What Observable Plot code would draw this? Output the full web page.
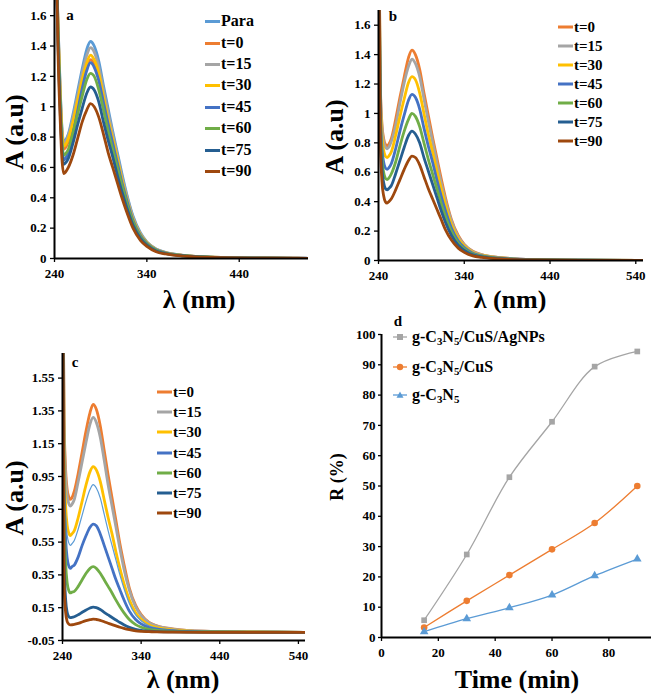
<!DOCTYPE html>
<html><head><meta charset="utf-8">
<script src="https://cdn.jsdelivr.net/npm/d3@7"></script>
<script src="https://cdn.jsdelivr.net/npm/@observablehq/plot@0.6"></script>
<style>
body{margin:0;background:#fff;}
#root{position:relative;width:651px;height:695px;overflow:hidden;font-family:"Liberation Serif","Tinos","Times New Roman","Times","Nimbus Roman","FreeSerif","DejaVu Serif","Noto Serif",serif;font-weight:bold;color:#000;background:#fff;}
.panel{position:absolute;}
.t{position:absolute;white-space:nowrap;line-height:1;transform:translate(-50%,-50%);}
.rot{transform:translate(-50%,-50%) rotate(-90deg);}
.leg{position:absolute;display:flex;align-items:center;transform:translateY(-50%);line-height:1;white-space:nowrap;}
sub{font-size:0.68em;vertical-align:-0.28em;line-height:0;}
</style>
</head><body><div id="root"></div>
<script>
// ---- Wavelength grid (nm) shared by the spectra ----
const W = [240, 242, 244, 246, 248, 250, 252, 255, 260, 265, 270, 275, 279, 283, 288, 293, 298, 303, 308, 313, 318, 325, 333, 340, 350, 360, 380, 420, 480, 550];

// ---- Panel a ----
const namesA = ["Para", "t=0", "t=15", "t=30", "t=45", "t=60", "t=75", "t=90"];
const a_para = [2.6, 1.95, 1.52, 1.15, 0.87, 0.77, 0.78, 0.82, 0.95, 1.10, 1.25, 1.38, 1.43, 1.40, 1.30, 1.14, 0.99, 0.84, 0.70, 0.56, 0.43, 0.28, 0.17, 0.11, 0.063, 0.041, 0.021, 0.007, 0.003, 0];
const a_t0 = [2.6, 1.95, 1.47, 1.10, 0.82, 0.72, 0.73, 0.77, 0.88, 1.02, 1.15, 1.26, 1.31, 1.28, 1.19, 1.05, 0.90, 0.77, 0.64, 0.51, 0.39, 0.26, 0.155, 0.10, 0.058, 0.038, 0.02, 0.007, 0.003, 0];
const a_t15 = [2.6, 1.95, 1.51, 1.14, 0.86, 0.76, 0.77, 0.81, 0.93, 1.07, 1.22, 1.34, 1.39, 1.36, 1.26, 1.11, 0.96, 0.82, 0.68, 0.54, 0.42, 0.27, 0.164, 0.108, 0.061, 0.04, 0.021, 0.007, 0.003, 0];
const a_t30 = [2.6, 1.95, 1.49, 1.12, 0.84, 0.74, 0.75, 0.79, 0.90, 1.04, 1.18, 1.29, 1.34, 1.31, 1.22, 1.07, 0.92, 0.79, 0.66, 0.52, 0.40, 0.26, 0.158, 0.105, 0.059, 0.039, 0.02, 0.007, 0.003, 0];
const a_t45 = [2.6, 1.95, 1.40, 1.03, 0.75, 0.65, 0.66, 0.70, 0.82, 0.97, 1.12, 1.24, 1.29, 1.26, 1.17, 1.03, 0.89, 0.76, 0.63, 0.50, 0.39, 0.25, 0.152, 0.10, 0.057, 0.037, 0.019, 0.006, 0.003, 0];
const a_t60 = [2.6, 1.95, 1.43, 1.06, 0.78, 0.68, 0.69, 0.72, 0.83, 0.95, 1.07, 1.18, 1.22, 1.20, 1.11, 0.98, 0.84, 0.72, 0.60, 0.48, 0.37, 0.24, 0.144, 0.095, 0.054, 0.035, 0.018, 0.006, 0.002, 0];
const a_t75 = [2.6, 1.95, 1.37, 1.00, 0.72, 0.62, 0.63, 0.66, 0.76, 0.88, 0.99, 1.09, 1.13, 1.11, 1.03, 0.90, 0.78, 0.67, 0.55, 0.44, 0.34, 0.22, 0.133, 0.088, 0.05, 0.033, 0.017, 0.006, 0.002, 0];
const a_t90 = [2.6, 1.95, 1.31, 0.94, 0.66, 0.56, 0.57, 0.60, 0.68, 0.79, 0.90, 0.98, 1.02, 1.00, 0.93, 0.82, 0.70, 0.60, 0.50, 0.40, 0.31, 0.20, 0.12, 0.08, 0.045, 0.03, 0.015, 0.005, 0.002, 0];
const xTicksA = [240, 340, 440];
const yTicksA = [0, 0.2, 0.4, 0.6, 0.8, 1, 1.2, 1.4, 1.6];

// ---- Panel b ----
const namesB = ["t=0", "t=15", "t=30", "t=45", "t=60", "t=75", "t=90"];
const b_t0 = [2.6, 1.23, 0.93, 0.83, 0.79, 0.78, 0.79, 0.83, 0.96, 1.11, 1.25, 1.38, 1.43, 1.40, 1.30, 1.14, 0.99, 0.84, 0.70, 0.56, 0.43, 0.28, 0.17, 0.11, 0.063, 0.041, 0.021, 0.007, 0.003, 0];
const b_t15 = [2.6, 1.21, 0.91, 0.81, 0.77, 0.76, 0.77, 0.81, 0.92, 1.07, 1.21, 1.32, 1.37, 1.34, 1.25, 1.10, 0.95, 0.81, 0.67, 0.53, 0.41, 0.27, 0.162, 0.107, 0.06, 0.04, 0.021, 0.007, 0.003, 0];
const b_t30 = [2.6, 1.15, 0.85, 0.75, 0.71, 0.70, 0.71, 0.74, 0.85, 0.98, 1.10, 1.21, 1.25, 1.23, 1.14, 1.00, 0.86, 0.74, 0.61, 0.49, 0.38, 0.245, 0.148, 0.098, 0.055, 0.036, 0.019, 0.006, 0.002, 0];
const b_t45 = [2.6, 1.07, 0.77, 0.67, 0.63, 0.62, 0.63, 0.66, 0.76, 0.88, 0.99, 1.09, 1.13, 1.11, 1.03, 0.90, 0.78, 0.67, 0.55, 0.44, 0.34, 0.22, 0.133, 0.088, 0.05, 0.033, 0.017, 0.006, 0.002, 0];
const b_t60 = [2.6, 1.00, 0.70, 0.60, 0.56, 0.55, 0.56, 0.59, 0.67, 0.78, 0.88, 0.96, 1.00, 0.98, 0.91, 0.80, 0.69, 0.59, 0.49, 0.39, 0.30, 0.196, 0.118, 0.078, 0.044, 0.029, 0.015, 0.005, 0.002, 0];
const b_t75 = [2.6, 0.93, 0.63, 0.53, 0.49, 0.48, 0.49, 0.51, 0.59, 0.68, 0.77, 0.85, 0.88, 0.86, 0.80, 0.70, 0.61, 0.52, 0.43, 0.34, 0.26, 0.172, 0.104, 0.069, 0.039, 0.026, 0.013, 0.004, 0.002, 0];
const b_t90 = [2.6, 0.84, 0.54, 0.44, 0.40, 0.39, 0.40, 0.42, 0.48, 0.55, 0.62, 0.68, 0.71, 0.70, 0.65, 0.57, 0.49, 0.42, 0.35, 0.28, 0.21, 0.139, 0.084, 0.055, 0.031, 0.021, 0.011, 0.004, 0.001, 0];
const xTicksB = [240, 340, 440, 540];
const yTicksB = [0, 0.2, 0.4, 0.6, 0.8, 1, 1.2, 1.4, 1.6];

// ---- Panel c ----
const namesC = ["t=0", "t=15", "t=30", "t=45", "t=60", "t=75", "t=90"];
const c_t0 = [2.6, 1.31, 0.99, 0.87, 0.825, 0.81, 0.82, 0.86, 0.97, 1.10, 1.23, 1.34, 1.39, 1.36, 1.26, 1.11, 0.96, 0.82, 0.68, 0.54, 0.42, 0.27, 0.164, 0.108, 0.061, 0.04, 0.021, 0.007, 0.003, 0];
const c_t15 = [2.6, 1.27, 0.95, 0.83, 0.785, 0.77, 0.78, 0.81, 0.92, 1.04, 1.16, 1.27, 1.31, 1.28, 1.19, 1.05, 0.90, 0.77, 0.64, 0.51, 0.39, 0.257, 0.155, 0.102, 0.058, 0.038, 0.02, 0.007, 0.003, 0];
const c_t30 = [2.6, 1.09, 0.77, 0.65, 0.605, 0.59, 0.60, 0.62, 0.70, 0.80, 0.90, 0.98, 1.01, 0.99, 0.92, 0.81, 0.70, 0.60, 0.49, 0.39, 0.30, 0.198, 0.119, 0.079, 0.044, 0.029, 0.015, 0.005, 0.002, 0];
const c_extra = [2.6, 1.03, 0.71, 0.59, 0.545, 0.53, 0.54, 0.56, 0.63, 0.715, 0.80, 0.87, 0.90, 0.88, 0.82, 0.72, 0.62, 0.53, 0.44, 0.35, 0.27, 0.176, 0.106, 0.07, 0.04, 0.026, 0.014, 0.005, 0.002, 0];
const c_t45 = [2.6, 0.89, 0.57, 0.45, 0.405, 0.39, 0.40, 0.41, 0.46, 0.53, 0.59, 0.64, 0.66, 0.65, 0.60, 0.53, 0.46, 0.39, 0.32, 0.26, 0.20, 0.129, 0.078, 0.051, 0.029, 0.019, 0.01, 0.003, 0.001, 0];
const c_t60 = [2.6, 0.74, 0.42, 0.30, 0.255, 0.24, 0.245, 0.25, 0.28, 0.32, 0.36, 0.39, 0.40, 0.39, 0.36, 0.32, 0.28, 0.24, 0.196, 0.156, 0.12, 0.078, 0.047, 0.031, 0.018, 0.012, 0.006, 0.002, 0.001, 0];
const c_t75 = [2.6, 0.45, 0.20, 0.12, 0.095, 0.09, 0.091, 0.095, 0.107, 0.122, 0.136, 0.148, 0.153, 0.15, 0.139, 0.122, 0.106, 0.09, 0.075, 0.06, 0.046, 0.03, 0.018, 0.012, 0.007, 0.004, 0.002, 0.001, 0, 0];
const c_t90 = [2.6, 0.30, 0.12, 0.065, 0.05, 0.045, 0.046, 0.048, 0.054, 0.063, 0.071, 0.077, 0.08, 0.078, 0.073, 0.064, 0.055, 0.047, 0.039, 0.031, 0.024, 0.016, 0.009, 0.006, 0.004, 0.002, 0.001, 0, 0, 0];
const xTicksC = [240, 340, 440, 540];
const yTicksC = [-0.05, 0.15, 0.35, 0.55, 0.75, 0.95, 1.15, 1.35, 1.55];

// ---- Panel d ----
const time = [15, 30, 45, 60, 75, 90];
const rAgNPs = [5.7, 27.4, 52.9, 71.2, 89.4, 94.4];
const rCuS = [3.3, 12.1, 20.6, 29.1, 37.8, 50.0];
const rC3N5 = [1.9, 6.2, 9.8, 14.0, 20.4, 25.9];
const xTicksD = [0, 20, 40, 60, 80];
const yTicksD = [0, 10, 20, 30, 40, 50, 60, 70, 80, 90, 100];

// ---- Styles ----
const C = {para:"#5B9BD5", t0:"#ED7D31", t15:"#A5A5A5", t30:"#FFC000", t45:"#4472C4", t60:"#70AD47", t75:"#255E91", t90:"#9E480E"};
const SERIF = "'Liberation Serif','Tinos','Times New Roman','Times','Nimbus Roman','FreeSerif','DejaVu Serif','Noto Serif',serif";
const root = document.getElementById("root");

function place(node, left, top, width) {
  const d = document.createElement("div");
  d.className = "panel";
  d.style.left = left + "px"; d.style.top = top + "px"; d.style.width = width + "px";
  d.appendChild(node);
  root.appendChild(d);
}
function text(html, x, y, size, rot) {
  const d = document.createElement("div");
  d.className = "t" + (rot ? " rot" : "");
  d.style.left = x + "px"; d.style.top = y + "px"; d.style.fontSize = size + "px";
  d.innerHTML = html;
  root.appendChild(d);
}
function legend(x, ys, names, colors, fs) {
  names.forEach((n, i) => {
    const d = document.createElement("div");
    d.className = "leg";
    d.style.left = x + "px"; d.style.top = ys[i] + "px"; d.style.fontSize = fs + "px";
    d.innerHTML = `<span style="display:inline-block;width:15px;height:3px;background:${colors[i]};margin-right:1px"></span><span>${n}</span>`;
    root.appendChild(d);
  });
}
const axisStyle = {fontFamily: SERIF, fontSize: "13px", fontWeight: "bold", color: "#000", background: "transparent", overflow: "visible"};

function spectrum(cfg) {
  const marks = [
    Plot.axisX({ticks: cfg.xTicks, tickSize: 4, tickPadding: 6, tickFormat: d => String(d), label: null, stroke: "#000", strokeWidth: 1.3}),
    Plot.axisY({ticks: cfg.yTicks, tickSize: 4, tickPadding: 4, tickFormat: d => String(d), label: null, stroke: "#000", strokeWidth: 1.3}),
  ];
  cfg.series.forEach(s => {
    marks.push(Plot.line(W.map((w, i) => ({w, A: s.v[i]})), {x: "w", y: "A", stroke: s.c, strokeWidth: s.sw || 2.8, curve: "monotone-x", clip: true}));
  });
  marks.push(Plot.ruleX([cfg.xDomain[0]], {stroke: "#000", strokeWidth: 2}));
  marks.push(Plot.ruleY([cfg.yDomain[0]], {stroke: "#000", strokeWidth: 2}));
  return Plot.plot({
    width: cfg.width, height: cfg.height,
    marginLeft: cfg.ml, marginRight: cfg.mr, marginTop: cfg.mt, marginBottom: cfg.mb,
    x: {domain: cfg.xDomain}, y: {domain: cfg.yDomain},
    style: axisStyle,
    marks
  });
}

// Panel a
place(spectrum({
  width: 320, height: 290, ml: 54, mr: 12, mt: 0, mb: 32,
  xDomain: [240, 515], yDomain: [0, 1.7], xTicks: xTicksA, yTicks: yTicksA,
  series: [
    {v: a_para, c: C.para}, {v: a_t0, c: C.t0}, {v: a_t15, c: C.t15}, {v: a_t30, c: C.t30},
    {v: a_t45, c: C.t45}, {v: a_t60, c: C.t60}, {v: a_t75, c: C.t75}, {v: a_t90, c: C.t90}
  ]
}), 0, 0, 320);

// Panel b
place(spectrum({
  width: 331, height: 292, ml: 58, mr: 8, mt: 10, mb: 32,
  xDomain: [240, 549], yDomain: [0, 1.7], xTicks: xTicksB, yTicks: yTicksB,
  series: [
    {v: b_t0, c: C.t0}, {v: b_t15, c: C.t15}, {v: b_t30, c: C.t30}, {v: b_t45, c: C.t45},
    {v: b_t60, c: C.t60}, {v: b_t75, c: C.t75}, {v: b_t90, c: C.t90}
  ]
}), 320, 0, 331);

// Panel c
place(spectrum({
  width: 320, height: 345, ml: 62, mr: 15, mt: 23, mb: 35,
  xDomain: [240, 549], yDomain: [-0.05, 1.70], xTicks: xTicksC, yTicks: yTicksC,
  series: [
    {v: c_t0, c: C.t0}, {v: c_t15, c: C.t15}, {v: c_t30, c: C.t30}, {v: c_extra, c: C.para, sw: 1.2},
    {v: c_t45, c: C.t45}, {v: c_t60, c: C.t60}, {v: c_t75, c: C.t75}, {v: c_t90, c: C.t90}
  ]
}), 0, 330, 320);

// Panel d
const dSeries = [
  {v: rAgNPs, c: "#A5A5A5", sym: "square", r: 3.2},
  {v: rCuS, c: "#ED7D31", sym: "circle", r: 3.3},
  {v: rC3N5, c: "#5B9BD5", sym: "triangle", r: 3.2}
];
const dMarks = [
  Plot.axisX({ticks: xTicksD, tickSize: 4, tickPadding: 6, tickFormat: d => String(d), label: null, stroke: "#000", strokeWidth: 1.3}),
  Plot.axisY({ticks: yTicksD, tickSize: 3, tickPadding: 3, tickFormat: d => String(d), label: null, stroke: "#000", strokeWidth: 1.3}),
];
dSeries.forEach(s => {
  const data = time.map((t, i) => ({t, r: s.v[i]}));
  dMarks.push(Plot.line(data, {x: "t", y: "r", stroke: s.c, strokeWidth: 1.3, curve: "catmull-rom"}));
  dMarks.push(Plot.dot(data, {x: "t", y: "r", fill: s.c, symbol: s.sym, r: s.r}));
});
dMarks.push(Plot.ruleX([0], {stroke: "#000", strokeWidth: 2}));
dMarks.push(Plot.ruleY([0], {stroke: "#000", strokeWidth: 2}));
place(Plot.plot({
  width: 331, height: 345, marginLeft: 61, marginRight: 0, marginTop: 14, marginBottom: 28,
  x: {domain: [0, 95]}, y: {domain: [0, 100]},
  style: axisStyle,
  marks: dMarks
}), 320, 320, 331);

// Axis titles and panel letters
text("A (a.u)", 15, 132, 26, true);
text("λ (nm)", 199, 300, 26);
text("a", 70, 15, 15);
text("A (a.u)", 335, 137, 26, true);
text("λ (nm)", 510, 300, 26);
text("b", 393, 16, 15);
text("A (a.u)", 15, 498, 26, true);
text("λ (nm)", 183, 680, 26);
text("c", 75, 362, 15);
text("R (%)", 337, 477, 18, true);
text("Time (min)", 517, 680, 26);
text("d", 398, 321, 15);

// Legends
legend(205, [21, 43, 64, 85, 107, 128, 150, 171], namesA, [C.para, C.t0, C.t15, C.t30, C.t45, C.t60, C.t75, C.t90], 16);
legend(558, [27, 46, 65, 84, 103, 122, 141], namesB, [C.t0, C.t15, C.t30, C.t45, C.t60, C.t75, C.t90], 15);
legend(157, [392, 412, 432, 453, 473, 493, 513], namesC, [C.t0, C.t15, C.t30, C.t45, C.t60, C.t75, C.t90], 15);

const namesD = ["g-C<sub>3</sub>N<sub>5</sub>/CuS/AgNPs", "g-C<sub>3</sub>N<sub>5</sub>/CuS", "g-C<sub>3</sub>N<sub>5</sub>"];
const symD = [
  c => `<rect x="4" y="2" width="6" height="6" fill="${c}"/>`,
  c => `<circle cx="7" cy="5" r="3.2" fill="${c}"/>`,
  c => `<path d="M7,1.5 L10.5,7.8 L3.5,7.8 Z" fill="${c}"/>`
];
[337, 367, 395].forEach((y, i) => {
  const d = document.createElement("div");
  d.className = "leg";
  d.style.left = "393px"; d.style.top = y + "px"; d.style.fontSize = "16px";
  const c = dSeries[i].c;
  d.innerHTML = `<svg width="14" height="10" style="margin-right:5px"><line x1="0" y1="5" x2="14" y2="5" stroke="${c}" stroke-width="1.3"/>${symD[i](c)}</svg><span>${namesD[i]}</span>`;
  root.appendChild(d);
});
</script>
</body></html>
